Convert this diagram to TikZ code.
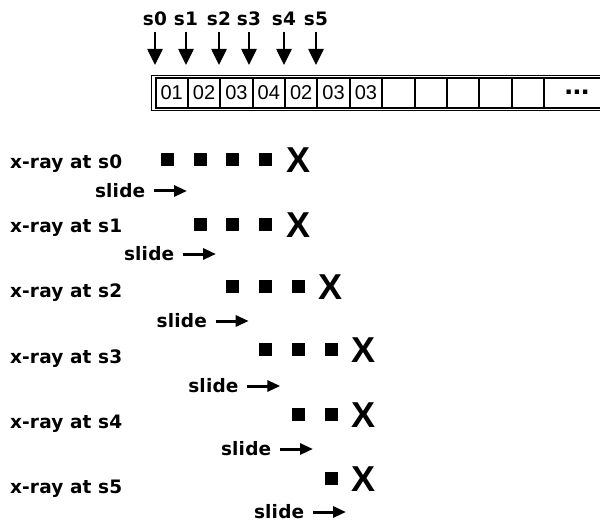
\documentclass[tikz,border=0pt]{standalone}
\usepackage{fontspec}
\newfontfamily\rayfont{DejaVu Sans}[LetterSpace=1]
\newfontfamily\tapefont{Liberation Sans}
\usetikzlibrary{arrows.meta}

\begin{document}
\begin{tikzpicture}[
  x=1pt, y=-1pt,
  every node/.style={inner sep=0pt, outer sep=0pt},
  txt/.style={font=\rayfont\bfseries\fontsize{18.5}{18.5}\selectfont},
  cell/.style={
    draw,
    line width=2pt,
    minimum width=32.375pt,
    minimum height=30pt,
    font=\tapefont\fontsize{20}{20}\selectfont
  },
  probe/.style={fill=black, minimum size=13pt},
  hit/.style={font=\tapefont\bfseries\fontsize{36}{36}\selectfont},
  ptr/.style={-{Triangle[length=16pt,width=15pt]}, line width=2.6pt},
  push/.style={-{Triangle[length=13pt,width=11pt]}, line width=3pt}
]
\useasboundingbox (0,0) rectangle (600,524);

% tape
\draw[line width=1.2pt] (151.5,75.3) rectangle (640,110.7);
\foreach \v [count=\i from 0] in {01,02,03,04,02,03,03,{},{},{},{},{}}
  \node[cell] (c\i) at (171.7+32.375*\i,93) {\v};
\node[cell, minimum width=80pt, anchor=west] (more) at (c11.east) {};
\node[font=\tapefont\bfseries\fontsize{30}{30}\selectfont] (dots) at (577,92) {...};

% shift pointers
\foreach \x [count=\i from 0] in {155,186,219,249,284,316} {
  \node[txt, anchor=base] (s\i) at (\x,26) {s\i};
  \coordinate (p\i) at (\x,65);
  \draw[ptr] ([yshift=-6pt]s\i.south) -- (p\i);
}

% x-ray rows
\foreach \k/\yb/\yc/\first/\last/\hitx/\sb/\sl in {
    0/168/159.5/0/3/4/197/95,
    1/232/224.5/1/3/4/260/124,
    2/297/286/2/4/5/327/156.7,
    3/363/349.5/3/5/6/392/188.3,
    4/428/414/4/5/6/455/221,
    5/493/478/5/5/6/518/254} {
  \node[txt, anchor=base west] (ray\k) at (10,\yb) {x-ray at s\k};
  \foreach \g in {\first,...,\last}
    \node[probe] (sq\k-\g) at (167.5+32.7*\g,\yc) {};
  \node[hit] (hit\k) at (167.5+32.7*\hitx,\yc+1) {X};
  \node[txt, anchor=base west] (slide\k) at (\sl,\sb) {slide};
  \coordinate (tail\k) at (\sl+59,\sb-6);
  \draw[push] (tail\k) -- ++(33,0);
}
\end{tikzpicture}
\end{document}
